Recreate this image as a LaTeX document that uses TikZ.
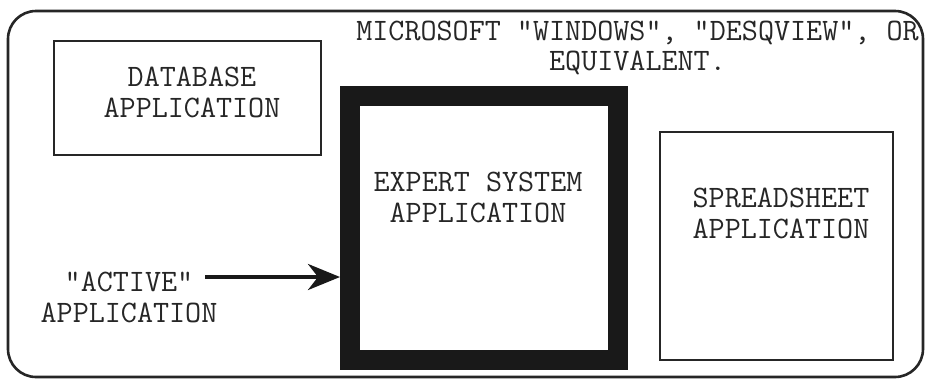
\documentclass[tikz,border=0pt]{standalone}
\usepackage{fontspec}
\usetikzlibrary{arrows.meta}
\begin{document}
\begin{tikzpicture}[x=0.5pt,y=-0.5pt,
  lbl/.style={font=\ttfamily\fontsize{15.6}{15.5}\selectfont, align=center, inner sep=0pt, text=black!85},
  appbox/.style={draw=black!85, line width=1.3pt, inner sep=0pt, outer sep=0pt},
  activebox/.style={draw=black!90, line width=10pt, inner sep=0pt},
  pointer/.style={draw=black!90, line width=2pt, -{Stealth[length=16pt,width=13pt,inset=5pt]}}]
\useasboundingbox (0,0) rectangle (928,381);
\fill[white] (0,0) rectangle (928,381);
% outer window
\draw[black!85, line width=1.3pt, rounded corners=14pt] (8,11) rectangle (923,377);
% title
\node[lbl, font=\ttfamily\fontsize{15.6}{15}\selectfont, anchor=base] (title) at (637.5,70) {MICROSOFT "WINDOWS", "DESQVIEW", OR\\EQUIVALENT.};
% boxes
\node[appbox, minimum width=133.5pt, minimum height=57pt] (db) at (187.5,98) {};
\node[lbl, anchor=base] (dbtxt) at (192,117) {DATABASE\\APPLICATION};
\node[activebox, minimum width=134pt, minimum height=132pt] (expert) at (484,228) {};
\node[lbl, anchor=base] (exptxt) at (478,222) {EXPERT SYSTEM\\APPLICATION};
\node[appbox, minimum width=116.5pt, minimum height=114pt] (ss) at (776.5,246) {};
\node[lbl, anchor=base] (sstxt) at (781,238) {SPREADSHEET\\APPLICATION};
% active label and arrow
\node[lbl, anchor=base] (act) at (129,322) {"ACTIVE"\\APPLICATION};
\coordinate (arrs) at (205,277);
\draw[pointer] (arrs) -- (arrs -| expert.west);
\end{tikzpicture}
\end{document}
